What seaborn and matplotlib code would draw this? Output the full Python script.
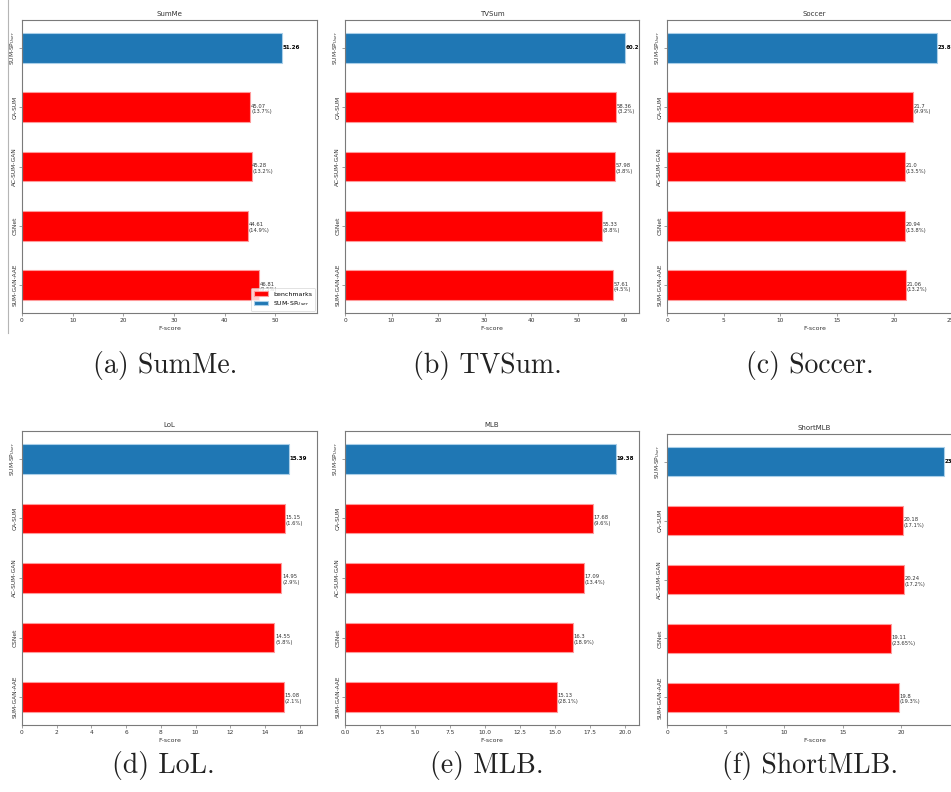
import matplotlib
matplotlib.use("Agg")
import matplotlib.pyplot as plt
from matplotlib.lines import Line2D
import seaborn as sns
import pandas as pd

methods = ["SUM-SP$_{User}$", "CA-SUM", "AC-SUM-GAN", "CSNet", "SUM-GAN-AAE"]
groups = ["SUM-SP$_{User}$", "benchmarks", "benchmarks", "benchmarks", "benchmarks"]

titles = ["SumMe", "TVSum", "Soccer", "LoL", "MLB", "ShortMLB"]
captions = ["(a) SumMe.", "(b) TVSum.", "(c) Soccer.", "(d) LoL.", "(e) MLB.", "(f) ShortMLB."]

summe = [51.26, 45.07, 45.28, 44.61, 46.81]
tvsum = [60.2, 58.36, 57.98, 55.33, 57.61]
soccer = [23.84, 21.7, 21.0, 20.94, 21.06]
lol = [15.39, 15.15, 14.95, 14.55, 15.08]
mlb = [19.38, 17.68, 17.09, 16.3, 15.13]
shortmlb = [23.63, 20.18, 20.24, 19.11, 19.8]

summe_pct = ["13.7%", "13.2%", "14.9%", "9.5%"]
tvsum_pct = ["3.2%", "3.8%", "8.8%", "4.5%"]
soccer_pct = ["9.9%", "13.5%", "13.8%", "13.2%"]
lol_pct = ["1.6%", "2.9%", "5.8%", "2.1%"]
mlb_pct = ["9.6%", "13.4%", "18.9%", "28.1%"]
shortmlb_pct = ["17.1%", "17.2%", "23.65%", "19.3%"]

xmax = [58.2, 63.2, 26.0, 17.0, 21.0, 25.2]

all_vals = [summe, tvsum, soccer, lol, mlb, shortmlb]
all_pct = [summe_pct, tvsum_pct, soccer_pct, lol_pct, mlb_pct, shortmlb_pct]

W, H = 951, 792
fig = plt.figure(figsize=(W / 100, H / 100), dpi=100)

# axes boxes in pixels: left, top, right, bottom
boxes = [
    (22, 20, 317, 313),
    (345, 20, 639, 313),
    (667, 20, 962, 313),
    (22, 431, 317, 725),
    (345, 431, 639, 725),
    (667, 434, 962, 725),
]

palette = {"benchmarks": "#ff0000", "SUM-SP$_{User}$": "#1f77b4"}
edges = {"benchmarks": "#ff9a9a", "SUM-SP$_{User}$": "#a9cfe9"}
spine_col = "#7a7a7a"
text_col = "#333333"

for i, (l, t, r, b) in enumerate(boxes):
    ax = fig.add_axes([l / W, 1 - b / H, (r - l) / W, (b - t) / H])
    df = pd.DataFrame({"method": methods, "score": all_vals[i], "group": groups})
    sns.barplot(data=df, x="score", y="method", hue="group", order=methods,
                hue_order=["benchmarks", "SUM-SP$_{User}$"], palette=palette,
                dodge=False, width=0.5, orient="h", ax=ax, legend=(i == 0),
                saturation=1)
    for p in ax.patches:
        fc = p.get_facecolor()
        if fc[0] > 0.9:
            p.set_edgecolor(edges["benchmarks"])
        else:
            p.set_edgecolor(edges["SUM-SP$_{User}$"])
        p.set_linewidth(0.8)
    ax.set_ylim(4.47, -0.47)
    ax.set_xlim(0, xmax[i])
    vals = all_vals[i]
    pcts = all_pct[i]
    off = xmax[i] * 0.002
    ax.text(vals[0] + off, 0, str(vals[0]), fontsize=4, fontweight="bold",
            va="center", ha="left", color="black", clip_on=False)
    for j in range(1, 5):
        ax.text(vals[j] + off, j + 0.03, f"{vals[j]}\n({pcts[j-1]})", fontsize=3.8,
                va="center", ha="left", color=text_col, linespacing=1.2)
    ax.set_title(titles[i], fontsize=5, pad=3, color=text_col)
    ax.set_xlabel("F-score", fontsize=4.5, labelpad=2, color=text_col)
    ax.set_ylabel("")
    ax.tick_params(axis="both", labelsize=4.2, length=2, width=0.5, pad=1.5,
                   colors=spine_col, labelcolor=text_col)
    ax.tick_params(axis="y", labelrotation=90)
    for lab in ax.get_yticklabels():
        lab.set_va("center")
    for s in ax.spines.values():
        s.set_color(spine_col)
        s.set_linewidth(0.8)
    if i == 0:
        leg = ax.legend(loc="lower right", fontsize=4.5, frameon=True,
                        handlelength=2.2, borderpad=0.5, labelspacing=0.4,
                        fancybox=True, borderaxespad=0.3)
        leg.get_frame().set_linewidth(0.5)

# caption texts
cap_pos = [(165, 365), (487, 365), (810, 365), (163, 765), (487, 765), (810, 765)]
for (x, y), c in zip(cap_pos, captions):
    fig.text(x / W, 1 - y / H, c, fontsize=20, family="cmr10", ha="center",
             va="center", color="#222222")

# crop artifact line at the left of panel (a)
fig.add_artist(Line2D([8 / W, 8 / W], [1, 1 - 333 / H], color="#b5b5b5", lw=0.8))

fig.savefig("out.png", dpi=100, facecolor="white")
